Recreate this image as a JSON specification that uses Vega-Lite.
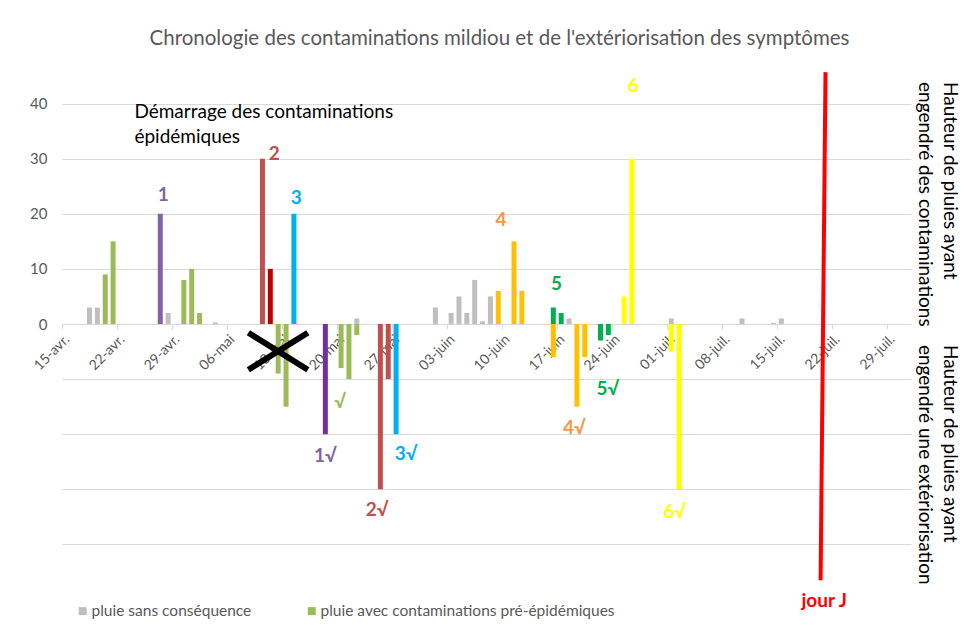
{
  "$schema": "https://vega.github.io/schema/vega-lite/v6.json",
  "width": 849,
  "height": 496,
  "autosize": "none",
  "padding": {"left": 62, "top": 76, "right": 66, "bottom": 53},
  "background": "white",
  "title": {
    "text": "Chronologie des contaminations mildiou et de l'extériorisation des symptômes",
    "font": "Lato",
    "fontSize": 20.5,
    "fontWeight": "normal",
    "color": "#595959",
    "anchor": "middle",
    "frame": "group",
    "baseline": "alphabetic",
    "offset": -1,
    "dx": 13
  },
  "datasets": {
    "pluies": [
      {"date": "2021-04-18", "mm": 3, "serie": "pluie sans conséquence"},
      {"date": "2021-04-19", "mm": 3, "serie": "pluie sans conséquence"},
      {"date": "2021-04-20", "mm": 9, "serie": "pluie avec contaminations pré-épidémiques"},
      {"date": "2021-04-21", "mm": 15, "serie": "pluie avec contaminations pré-épidémiques"},
      {"date": "2021-04-27", "mm": 20, "serie": "contamination 1"},
      {"date": "2021-04-28", "mm": 2, "serie": "pluie sans conséquence"},
      {"date": "2021-04-30", "mm": 8, "serie": "pluie avec contaminations pré-épidémiques"},
      {"date": "2021-05-01", "mm": 10, "serie": "pluie avec contaminations pré-épidémiques"},
      {"date": "2021-05-02", "mm": 2, "serie": "pluie avec contaminations pré-épidémiques"},
      {"date": "2021-05-04", "mm": 0.3, "serie": "pluie sans conséquence"},
      {"date": "2021-05-10", "mm": 30, "serie": "contamination 2"},
      {"date": "2021-05-11", "mm": 10, "serie": "contamination 2 bis"},
      {"date": "2021-05-12", "mm": -9, "serie": "extériorisation pré-épidémique"},
      {"date": "2021-05-13", "mm": -15, "serie": "extériorisation pré-épidémique"},
      {"date": "2021-05-14", "mm": 20, "serie": "contamination 3"},
      {"date": "2021-05-18", "mm": -20, "serie": "extériorisation 1"},
      {"date": "2021-05-20", "mm": -8, "serie": "extériorisation pré-épidémique"},
      {"date": "2021-05-21", "mm": -10, "serie": "extériorisation pré-épidémique"},
      {"date": "2021-05-22", "mm": -2, "serie": "extériorisation pré-épidémique"},
      {"date": "2021-05-22", "mm": 1, "serie": "pluie sans conséquence"},
      {"date": "2021-05-25", "mm": -30, "serie": "extériorisation 2"},
      {"date": "2021-05-26", "mm": -10, "serie": "extériorisation 2"},
      {"date": "2021-05-27", "mm": -20, "serie": "extériorisation 3"},
      {"date": "2021-06-01", "mm": 3, "serie": "pluie sans conséquence"},
      {"date": "2021-06-03", "mm": 2, "serie": "pluie sans conséquence"},
      {"date": "2021-06-04", "mm": 5, "serie": "pluie sans conséquence"},
      {"date": "2021-06-05", "mm": 2, "serie": "pluie sans conséquence"},
      {"date": "2021-06-06", "mm": 8, "serie": "pluie sans conséquence"},
      {"date": "2021-06-07", "mm": 0.5, "serie": "pluie sans conséquence"},
      {"date": "2021-06-08", "mm": 5, "serie": "pluie sans conséquence"},
      {"date": "2021-06-09", "mm": 6, "serie": "contamination 4"},
      {"date": "2021-06-11", "mm": 15, "serie": "contamination 4"},
      {"date": "2021-06-12", "mm": 6, "serie": "contamination 4"},
      {"date": "2021-06-16", "mm": 3, "serie": "contamination 5"},
      {"date": "2021-06-16", "mm": -6, "serie": "extériorisation 4"},
      {"date": "2021-06-17", "mm": 2, "serie": "contamination 5"},
      {"date": "2021-06-18", "mm": 1, "serie": "pluie sans conséquence"},
      {"date": "2021-06-19", "mm": -15, "serie": "extériorisation 4"},
      {"date": "2021-06-20", "mm": -6, "serie": "extériorisation 4"},
      {"date": "2021-06-22", "mm": -3, "serie": "extériorisation 5"},
      {"date": "2021-06-23", "mm": -2, "serie": "extériorisation 5"},
      {"date": "2021-06-25", "mm": 5, "serie": "contamination 6"},
      {"date": "2021-06-26", "mm": 30, "serie": "contamination 6"},
      {"date": "2021-07-01", "mm": 1, "serie": "pluie sans conséquence"},
      {"date": "2021-07-01", "mm": -5, "serie": "extériorisation 6"},
      {"date": "2021-07-02", "mm": -30, "serie": "extériorisation 6"},
      {"date": "2021-07-10", "mm": 1, "serie": "pluie sans conséquence"},
      {"date": "2021-07-14", "mm": 0.2, "serie": "pluie sans conséquence"},
      {"date": "2021-07-15", "mm": 1, "serie": "pluie sans conséquence"}
    ],
    "croix": [
      {"trait": "a", "date": "2021-05-08T05:00:00Z", "mm": -1.6},
      {"trait": "a", "date": "2021-05-15T18:30:00Z", "mm": -8.3},
      {"trait": "b", "date": "2021-05-08T05:00:00Z", "mm": -8.3},
      {"trait": "b", "date": "2021-05-15T18:30:00Z", "mm": -1.6}
    ],
    "jourJ": [
      {"date": "2021-07-20T00:00:00Z", "mm": -46.5},
      {"date": "2021-07-20T15:00:00Z", "mm": 45.7}
    ],
    "etiquettes": [
      {"texte": "1", "groupe": "1", "date": "2021-04-27T09:00:00Z", "mm": 23.4},
      {"texte": "2", "groupe": "2", "date": "2021-05-11T12:00:00Z", "mm": 30.9},
      {"texte": "3", "groupe": "3", "date": "2021-05-14T07:00:00Z", "mm": 22.8},
      {"texte": "4", "groupe": "4", "date": "2021-06-09T08:00:00Z", "mm": 18.9},
      {"texte": "5", "groupe": "5", "date": "2021-06-16T10:00:00Z", "mm": 7.3},
      {"texte": "6", "groupe": "6", "date": "2021-06-26T03:00:00Z", "mm": 43.2},
      {"texte": "1√", "groupe": "1", "date": "2021-05-18T00:30:00Z", "mm": -23.9},
      {"texte": "√", "groupe": "pré-épidémique", "date": "2021-05-19T21:00:00Z", "mm": -14.1},
      {"texte": "2√", "groupe": "2", "date": "2021-05-24T14:00:00Z", "mm": -33.8},
      {"texte": "3√", "groupe": "3", "date": "2021-05-28T07:00:00Z", "mm": -23.6},
      {"texte": "4√", "groupe": "4", "date": "2021-06-18T16:00:00Z", "mm": -18.9},
      {"texte": "5√", "groupe": "5", "date": "2021-06-22T22:30:00Z", "mm": -11.8},
      {"texte": "6√", "groupe": "6", "date": "2021-07-01T10:20:00Z", "mm": -34.1},
      {"texte": "jour J", "groupe": "jour J", "date": "2021-07-20T10:50:00Z", "mm": -50.2}
    ],
    "note": [
      {"texte": "Démarrage des contaminations\népidémiques", "date": "2021-04-23T17:00:00Z", "mm": 38.5}
    ],
    "titres": [
      {"texte": "Hauteur de pluies ayant\nengendré des contaminations", "date": "2021-08-05T10:00:00Z", "mm": 43.9},
      {"texte": "Hauteur de pluies ayant\nengendré une extériorisation", "date": "2021-08-05T10:00:00Z", "mm": -3.8}
    ]
  },
  "layer": [
    {
      "data": {"name": "pluies"},
      "mark": {"type": "bar", "size": 5},
      "encoding": {
        "x": {
          "field": "date", "type": "temporal", "title": null,
          "scale": {"type": "utc", "padding": 0, "nice": false, "domain": [{"year": 2021, "month": 4, "date": 14, "hours": 12, "utc": true}, {"year": 2021, "month": 7, "date": 31, "hours": 12, "utc": true}]},
          "axis": {
            "orient": "bottom",
            "offset": -248,
            "values": [
              {"year": 2021, "month": 4, "date": 14, "hours": 12, "utc": true},
              {"year": 2021, "month": 4, "date": 21, "hours": 12, "utc": true},
              {"year": 2021, "month": 4, "date": 28, "hours": 12, "utc": true},
              {"year": 2021, "month": 5, "date": 5, "hours": 12, "utc": true},
              {"year": 2021, "month": 5, "date": 12, "hours": 12, "utc": true},
              {"year": 2021, "month": 5, "date": 19, "hours": 12, "utc": true},
              {"year": 2021, "month": 5, "date": 26, "hours": 12, "utc": true},
              {"year": 2021, "month": 6, "date": 2, "hours": 12, "utc": true},
              {"year": 2021, "month": 6, "date": 9, "hours": 12, "utc": true},
              {"year": 2021, "month": 6, "date": 16, "hours": 12, "utc": true},
              {"year": 2021, "month": 6, "date": 23, "hours": 12, "utc": true},
              {"year": 2021, "month": 6, "date": 30, "hours": 12, "utc": true},
              {"year": 2021, "month": 7, "date": 7, "hours": 12, "utc": true},
              {"year": 2021, "month": 7, "date": 14, "hours": 12, "utc": true},
              {"year": 2021, "month": 7, "date": 21, "hours": 12, "utc": true},
              {"year": 2021, "month": 7, "date": 28, "hours": 12, "utc": true}
            ],
            "labelExpr": "utcFormat(time(datum.value) + 43200000, '%d') + '-' + ['janv.','févr.','mars','avr.','mai','juin','juil.','août','sept.','oct.','nov.','déc.'][utcmonth(time(datum.value) + 43200000)]",
            "labelAngle": -45,
            "labelOverlap": false,
            "labelFont": "Lato",
            "labelFontSize": 14,
            "labelColor": "#595959",
            "labelPadding": 3,
            "grid": false,
            "domainColor": "#D9D9D9",
            "tickColor": "#D9D9D9",
            "tickSize": 5
          }
        },
        "y": {
          "field": "mm", "type": "quantitative", "title": null, "stack": null,
          "scale": {"domain": [-45, 45], "nice": false, "padding": 0},
          "axis": {
            "values": [-40, -30, -20, -10, 0, 10, 20, 30, 40],
            "labelExpr": "datum.value >= 0 ? datum.label : ''",
            "grid": true,
            "gridColor": "#D9D9D9",
            "domain": false,
            "ticks": false,
            "labelFont": "Lato",
            "labelFontSize": 15,
            "labelColor": "#595959",
            "labelPadding": 15
          }
        },
        "color": {
          "field": "serie", "type": "nominal",
          "scale": {
            "domain": ["pluie sans conséquence", "pluie avec contaminations pré-épidémiques", "extériorisation pré-épidémique", "contamination 1", "extériorisation 1", "contamination 2", "contamination 2 bis", "extériorisation 2", "contamination 3", "extériorisation 3", "contamination 4", "extériorisation 4", "contamination 5", "extériorisation 5", "contamination 6", "extériorisation 6"],
            "range": ["#BFBFBF", "#9BBB59", "#9BBB59", "#8064A2", "#7030A0", "#C0504D", "#C00000", "#C0504D", "#00B0F0", "#00B0F0", "#FFC000", "#FFC000", "#00B050", "#00B050", "#FFFF00", "#FFFF00"]
          },
          "legend": {
            "values": ["pluie sans conséquence", "pluie avec contaminations pré-épidémiques"],
            "title": null,
            "orient": "none",
            "legendX": 13,
            "legendY": 527,
            "direction": "horizontal",
            "symbolType": "square",
            "symbolSize": 64,
            "symbolStrokeWidth": 0,
            "labelFont": "Lato",
            "labelFontSize": 15.5,
            "labelColor": "#595959",
            "labelOffset": 1,
            "labelLimit": 400,
            "columnPadding": 52,
            "padding": 0
          }
        }
      }
    },
    {
      "data": {"name": "croix"},
      "mark": {"type": "line", "color": "black", "strokeWidth": 6, "strokeCap": "butt"},
      "encoding": {
        "x": {"field": "date", "type": "temporal", "title": null},
        "y": {"field": "mm", "type": "quantitative", "title": null},
        "detail": {"field": "trait"}
      }
    },
    {
      "data": {"name": "jourJ"},
      "mark": {"type": "line", "color": "#FF0000", "strokeWidth": 4},
      "encoding": {
        "x": {"field": "date", "type": "temporal", "title": null},
        "y": {"field": "mm", "type": "quantitative", "title": null}
      }
    },
    {
      "data": {"name": "etiquettes"},
      "mark": {"type": "text", "font": "Lato", "fontSize": 19, "fontWeight": "bold", "align": "center", "baseline": "middle"},
      "encoding": {
        "x": {"field": "date", "type": "temporal", "title": null},
        "y": {"field": "mm", "type": "quantitative", "title": null},
        "text": {"field": "texte"},
        "color": {
          "field": "groupe", "type": "nominal", "legend": null,
          "scale": {
            "domain": ["1", "2", "3", "4", "5", "6", "pré-épidémique", "jour J"],
            "range": ["#8064A2", "#C0504D", "#00B0F0", "#F79646", "#00B050", "#FFFF00", "#9BBB59", "#FF0000"]
          }
        }
      }
    },
    {
      "data": {"name": "note"},
      "mark": {"type": "text", "font": "Lato", "fontSize": 19, "align": "left", "baseline": "middle", "lineBreak": "\n", "lineHeight": 25, "color": "black"},
      "encoding": {
        "x": {"field": "date", "type": "temporal", "title": null},
        "y": {"field": "mm", "type": "quantitative", "title": null},
        "text": {"field": "texte"}
      }
    },
    {
      "data": {"name": "titres"},
      "mark": {"type": "text", "font": "Lato", "fontSize": 19, "align": "left", "baseline": "middle", "angle": 90, "lineBreak": "\n", "lineHeight": 25, "color": "black"},
      "encoding": {
        "x": {"field": "date", "type": "temporal", "title": null},
        "y": {"field": "mm", "type": "quantitative", "title": null},
        "text": {"field": "texte"}
      }
    }
  ],
  "resolve": {"scale": {"color": "independent"}},
  "config": {
    "view": {"stroke": null},
    "font": "Lato",
    "scale": {"continuousPadding": 0}
  }
}
